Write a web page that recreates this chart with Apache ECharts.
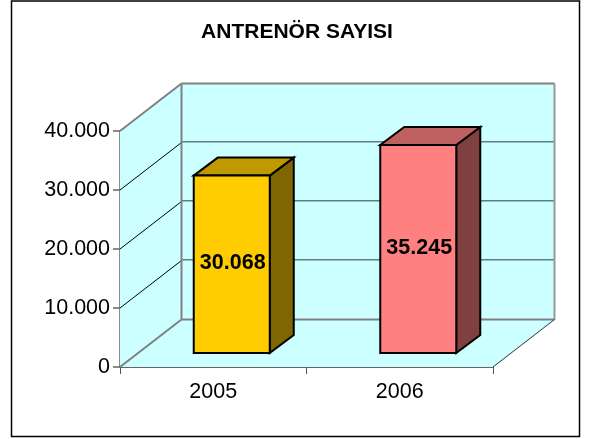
<!DOCTYPE html>
<html>
<head>
<meta charset="utf-8">
<style>
  html, body { margin: 0; padding: 0; background: #fff; }
  #chart { width: 591px; height: 439px; }
</style>
<script src="https://cdn.jsdelivr.net/npm/echarts@6/dist/echarts.min.js"></script>
</head>
<body>
<div id="chart"></div>
<script>
const chartTitle = 'ANTRENÖR SAYISI';
const years = ['2005', '2006'];
const coachCounts = [30068, 35245];
const yTicks = [0, 10000, 20000, 30000, 40000];

const barColors = [
  { front: '#FFCC00', top: '#BF9900', side: '#806600' },
  { front: '#FF8080', top: '#BF6060', side: '#804040' }
];

// fake 3d: how far the back wall and the bars are pushed from the axis plane
const wallDx = 61.5, wallDy = -47.5;
const barDx = 18.5, barDy = -14;
const barDepthX = 24, barDepthY = -18;
const barWidth = 76;

const fmt = v => String(v).replace(/\B(?=(\d{3})+$)/g, '.');
const axisFont = 'Liberation Sans, Arial, sans-serif';

function poly(points, fill, stroke, lineWidth) {
  return {
    type: 'polygon',
    shape: { points: points },
    style: { fill: fill, stroke: stroke, lineWidth: lineWidth || 0, lineJoin: 'miter' }
  };
}
function line(a, b, stroke, lineWidth) {
  return {
    type: 'line',
    shape: { x1: a[0], y1: a[1], x2: b[0], y2: b[1] },
    style: { stroke: stroke, lineWidth: lineWidth, fill: null }
  };
}

function renderWalls(params, api) {
  const size = api.size([1, 0])[0];
  const l = api.coord([0, 0])[0] - size / 2;
  const r = api.coord([1, 0])[0] + size / 2;
  const y0 = api.coord([0, yTicks[0]])[1];
  const yMax = api.coord([0, yTicks[yTicks.length - 1]])[1];
  const bx = l + wallDx, rx = r + wallDx;
  const by = y0 + wallDy, ty = yMax + wallDy;
  const kids = [
    poly([[l, y0], [r, y0], [rx, by], [bx, by]], '#CCFFFF'),
    poly([[l, yMax], [bx, ty], [bx, by], [l, y0]], '#CCFFFF'),
    poly([[bx, ty], [rx, ty], [rx, by], [bx, by]], '#CCFFFF')
  ];
  yTicks.slice(1, -1).forEach(t => {
    const y = api.coord([0, t])[1];
    kids.push(line([l, y], [bx, y + wallDy], '#000', 1));
    kids.push(line([bx, y + wallDy - 0.7], [rx, y + wallDy - 0.7], '#5F7F7F', 1.5));
  });
  kids.push(line([l, yMax], [bx, ty], '#808080', 2));
  kids.push(line([l, y0], [bx, by], '#808080', 2));
  kids.push(line([bx, ty], [rx, ty], '#808080', 2));
  kids.push(line([bx, ty], [bx, by], '#808080', 2));
  kids.push(line([bx, by], [rx, by], '#808080', 2));
  kids.push(line([rx, ty], [rx, by], '#999999', 2));
  kids.push(line([r, y0], [rx, by], '#333', 1));
  return { type: 'group', children: kids };
}

function renderBar(params, api) {
  const i = api.value(0);
  const base = api.coord([i, 0]);
  const top = api.coord([i, api.value(1)]);
  const x1 = base[0] + barDx - barWidth / 2, x2 = x1 + barWidth;
  const yb = base[1] + barDy, yt = top[1] + barDy;
  const c = barColors[i];
  const dx = barDepthX, dy = barDepthY;
  return {
    type: 'group',
    children: [
      poly([[x2, yb], [x2 + dx, yb + dy], [x2 + dx, yt + dy], [x2, yt]], c.side, '#000', 2),
      poly([[x1, yt], [x2, yt], [x2 + dx, yt + dy], [x1 + dx, yt + dy]], c.top, '#000', 2),
      poly([[x1, yb], [x2, yb], [x2, yt], [x1, yt]], c.front, '#000', 2),
      {
        type: 'text',
        style: {
          x: (x1 + x2) / 2 + 1,
          y: (yb + yt) / 2 - 1,
          text: fmt(api.value(1)),
          fill: '#000',
          font: 'bold 21.5px ' + axisFont,
          align: 'center',
          verticalAlign: 'middle'
        }
      }
    ]
  };
}

const chart = echarts.init(document.getElementById('chart'), null, { renderer: 'canvas' });
chart.setOption({
  animation: false,
  backgroundColor: '#fff',
  title: {
    text: chartTitle,
    left: 292,
    top: 17,
    textAlign: 'center',
    textStyle: { fontFamily: axisFont, fontSize: 21, fontWeight: 'bold', color: '#000' }
  },
  graphic: [{
    type: 'rect',
    z: -10,
    shape: { x: 11.5, y: 1, width: 568, height: 435.5 },
    style: { fill: '#fff', stroke: '#000', lineWidth: 1.5 }
  }],
  grid: { left: 120, top: 131, width: 373, height: 236 },
  xAxis: {
    type: 'category',
    data: years,
    axisLine: { lineStyle: { color: '#333', width: 1.5 } },
    axisTick: { show: true, length: 7, alignWithLabel: false, lineStyle: { color: '#555', width: 1 } },
    axisLabel: { fontFamily: axisFont, fontSize: 21.5, color: '#000', margin: 14 }
  },
  yAxis: {
    type: 'value',
    min: yTicks[0],
    max: yTicks[yTicks.length - 1],
    interval: 10000,
    splitLine: { show: false },
    axisLine: { show: true, lineStyle: { color: '#666', width: 1.5 } },
    axisTick: { show: true, length: 7, lineStyle: { color: '#666', width: 1.5 } },
    axisLabel: { fontFamily: axisFont, fontSize: 21.5, color: '#000', margin: 10, formatter: v => fmt(v) }
  },
  series: [
    {
      type: 'custom',
      name: 'walls',
      coordinateSystem: 'cartesian2d',
      clip: false,
      silent: true,
      z: 1,
      data: [[0, 0]],
      renderItem: renderWalls
    },
    {
      type: 'custom',
      name: 'Antrenör',
      coordinateSystem: 'cartesian2d',
      clip: false,
      z: 2,
      encode: { x: 0, y: 1 },
      data: coachCounts.map((v, i) => [i, v]),
      renderItem: renderBar
    }
  ]
});
</script>
</body>
</html>
